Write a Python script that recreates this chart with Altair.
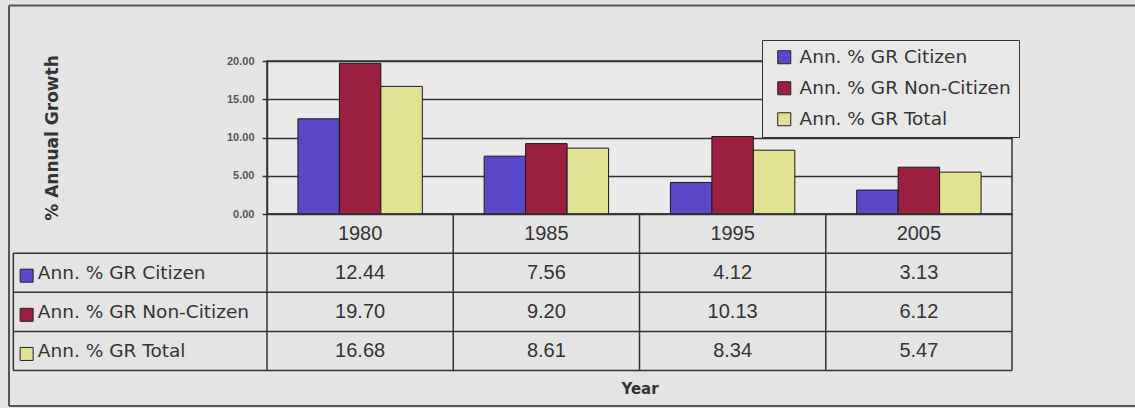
import altair as alt
import pandas as pd

# ---- data -------------------------------------------------------------
years = ["1980", "1985", "1995", "2005"]
series_names = ["Ann. % GR Citizen", "Ann. % GR Non-Citizen", "Ann. % GR Total"]
citizen = [12.44, 7.56, 4.12, 3.13]
non_citizen = [19.70, 9.20, 10.13, 6.12]
total = [16.68, 8.61, 8.34, 5.47]
series_colors = ["#5a48c8", "#9b1f40", "#e2e294"]

# ---- layout constants ---------------------------------------------------
PLOT_W = 745
PLOT_H = 153
TABLE_H = 156.5
LABEL_COL = 1.362  # width of the row-label column, in year-column units
FONT = "Liberation Sans"
LABEL_FONT = "DejaVu Sans"
INK = "#333333"

records = []
for j, (name, vals, hexcol) in enumerate(zip(series_names, [citizen, non_citizen, total], series_colors)):
    for i, (yr, v) in enumerate(zip(years, vals)):
        records.append({"year": yr, "series": name, "value": v, "col": i, "row": j + 1, "hex": hexcol})
bar_df = pd.DataFrame(records)

header_df = pd.DataFrame({"year": years, "col": list(range(len(years)))})
label_df = pd.DataFrame({"series": series_names, "row": [1, 2, 3], "hex": series_colors})

# grid lines of the data table (column / row units)
lines = [{"x": 0, "x2": 4, "y": 0, "y2": 0}]
for r in range(1, 5):
    lines.append({"x": -LABEL_COL, "x2": 4, "y": r, "y2": r})
for c in range(0, 5):
    lines.append({"x": c, "x2": c, "y": 0, "y2": 4})
lines.append({"x": -LABEL_COL, "x2": -LABEL_COL, "y": 1, "y2": 4})
lines_df = pd.DataFrame(lines)

# scales used by the table below the plot
tx = alt.Scale(domain=[0, 4], range=[0, PLOT_W], nice=False, zero=False)
ty = alt.Scale(domain=[0, 4], range=[PLOT_H, PLOT_H + TABLE_H], nice=False, zero=False)

# ---- outer frame (left, top and bottom edges) ------------------------------
one = alt.Data(values=[{"edge": 1}])
frame_style = dict(color="#555555", strokeWidth=2)
frame_top = alt.Chart(one).mark_rule(**frame_style).encode(
    x=alt.value(-258), x2=alt.value(868), y=alt.value(-55.5))
frame_bottom = alt.Chart(one).mark_rule(**frame_style).encode(
    x=alt.value(-258), x2=alt.value(868), y=alt.value(345))
frame_left = alt.Chart(one).mark_rule(**frame_style).encode(
    x=alt.value(-258), y=alt.value(-55.5), y2=alt.value(345))

# ---- bars -----------------------------------------------------------------
bars = alt.Chart(bar_df).mark_bar(stroke="#1a1a1a", strokeWidth=1).encode(
    x=alt.X(
        "year:N",
        sort=years,
        scale=alt.Scale(paddingInner=0.332, paddingOuter=0.166),
        axis=alt.Axis(
            title="Year", labels=False, ticks=False, domain=False, grid=False,
            titleY=174, titleBaseline="middle", titleFont="DejaVu Sans",
            titleFontSize=15, titleFontWeight="bold", titleColor=INK,
        ),
    ),
    xOffset=alt.XOffset("series:N", sort=series_names,
                        scale=alt.Scale(paddingInner=0, paddingOuter=0)),
    y=alt.Y(
        "value:Q",
        scale=alt.Scale(domain=[0, 20], nice=False),
        axis=alt.Axis(
            values=[0, 5, 10, 15, 20], format=".2f", grid=True,
            gridColor=INK, gridWidth=1.5, domainColor=INK, domainWidth=1.5,
            tickColor=INK, tickWidth=1.5, tickSize=5, labelPadding=8,
            labelFont=FONT, labelFontSize=11, labelFontWeight="bold",
            labelColor="#555555", labelFlush=False,
            title="% Annual Growth", titleX=-215, titleY=76.5, titleAngle=270,
            titleAlign="center", titleBaseline="middle", titleFont="DejaVu Sans",
            titleFontSize=17, titleFontWeight="bold", titleColor=INK,
        ),
    ),
    color=alt.Color(
        "series:N",
        sort=series_names,
        scale=alt.Scale(domain=series_names, range=series_colors),
        legend=alt.Legend(
            title=None, orient="none", legendX=495, legendY=-21,
            direction="vertical", fillColor="#e8e8e8", strokeColor=INK,
            padding=8, symbolOffset=5, symbolType="square", symbolSize=169,
            symbolStrokeColor="#222222", symbolStrokeWidth=1, symbolOpacity=1,
            labelFont=LABEL_FONT, labelFontSize=18.5, labelColor=INK, labelOffset=6,
            rowPadding=12, labelLimit=400,
        ),
    ),
)

# ---- data table -------------------------------------------------------------
table_lines = alt.Chart(lines_df).mark_rule(color=INK, strokeWidth=1.5).encode(
    x=alt.X("x:Q", scale=tx, axis=None),
    x2="x2:Q",
    y=alt.Y("y:Q", scale=ty, axis=None),
    y2="y2:Q",
)

header_text = alt.Chart(header_df).transform_calculate(
    cx="datum.col + 0.5", cy="0.5"
).mark_text(font=FONT, fontSize=20, color=INK).encode(
    x=alt.X("cx:Q", scale=tx, axis=None),
    y=alt.Y("cy:Q", scale=ty, axis=None),
    text="year:N",
)

value_text = alt.Chart(bar_df).transform_calculate(
    cx="datum.col + 0.5", cy="datum.row + 0.5"
).mark_text(font=FONT, fontSize=20, color=INK).encode(
    x=alt.X("cx:Q", scale=tx, axis=None),
    y=alt.Y("cy:Q", scale=ty, axis=None),
    text=alt.Text("value:Q", format=".2f"),
)

row_labels = alt.Chart(label_df).transform_calculate(
    lx=f"{-LABEL_COL}", cy="datum.row + 0.5"
).mark_text(font=LABEL_FONT, fontSize=18.5, color=INK, align="left", dx=24.5).encode(
    x=alt.X("lx:Q", scale=tx, axis=None),
    y=alt.Y("cy:Q", scale=ty, axis=None),
    text="series:N",
)

row_swatches = alt.Chart(label_df).transform_calculate(
    lx=f"{-LABEL_COL}", cy="datum.row + 0.5"
).mark_square(size=169, xOffset=13.3, yOffset=3, stroke="#222222",
              strokeWidth=1, opacity=1).encode(
    x=alt.X("lx:Q", scale=tx, axis=None),
    y=alt.Y("cy:Q", scale=ty, axis=None),
    color=alt.Color("hex:N", scale=None),
)

chart = alt.layer(
    frame_top, frame_bottom, frame_left,
    bars, table_lines, header_text, value_text, row_labels, row_swatches
).resolve_scale(
    x="independent", y="independent"
).properties(
    width=PLOT_W,
    height=PLOT_H,
    padding={"left": 267, "top": 61, "right": 123, "bottom": 194},
    autosize=alt.AutoSizeParams(type="none"),
    background="#e4e4e4",
).configure_view(
    fill="#eaeaea", stroke=INK, strokeWidth=1.5
)

chart.save("out.html", embed_options={"renderer": "svg", "actions": False})
